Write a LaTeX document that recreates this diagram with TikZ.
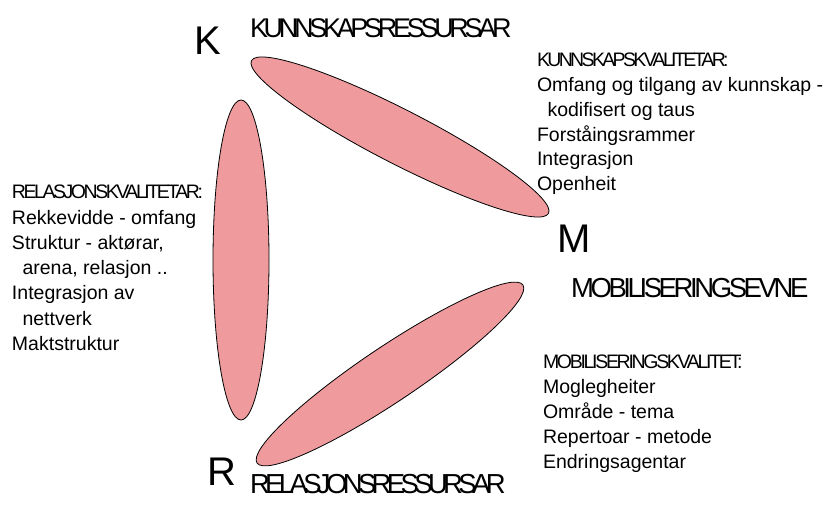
\documentclass[tikz,border=0pt]{standalone}
\usepackage{fontspec}
\setmainfont{Liberation Sans}
\newfontfamily\tightKq[LetterSpace=-13.6]{Liberation Sans}
\newfontfamily\tightRq[LetterSpace=-12.6]{Liberation Sans}
\newfontfamily\tightMq[LetterSpace=-11.8]{Liberation Sans}
\newfontfamily\tightKr[LetterSpace=-15.9]{Liberation Sans}
\newfontfamily\tightMr[LetterSpace=-12.4]{Liberation Sans}
\newfontfamily\tightRr[LetterSpace=-16.9]{Liberation Sans}
\definecolor{blobpink}{RGB}{239,155,158}
\begin{document}
\begin{tikzpicture}[x=1pt,y=-1pt,
  blob/.style={draw=black, line width=0.8pt, fill=blobpink},
  txt/.style={anchor=base west, inner sep=0pt, outer sep=0pt, font=\fontsize{19.5}{24}\selectfont},
  hsmall/.style={anchor=base west, inner sep=0pt, outer sep=0pt},
  big/.style={anchor=base west, inner sep=0pt, outer sep=0pt, font=\fontsize{40}{48}\selectfont},
  hbig/.style={anchor=base west, inner sep=0pt, outer sep=0pt}
]
\useasboundingbox (0,0) rectangle (827,505);
\fill[white] (0,0) rectangle (827,505);

% ellipses
\coordinate (ck) at (400,137);
\coordinate (cr) at (241,260);
\coordinate (cm) at (390,374);
\draw[blob] (cr) ellipse [x radius=28pt, y radius=160pt];
\draw[blob, rotate around={-27.2:(ck)}] (ck) ellipse [x radius=167pt, y radius=27pt];
\draw[blob, rotate around={33.8:(cm)}] (cm) ellipse [x radius=160pt, y radius=27.5pt];

% big letters
\node[big] (K) at (194,55) {K};
\node[big] (M) at (557,252) {M};
\node[big] (R) at (207,485) {R};

% big headings
\node[hbig, font=\fontsize{27}{32}\selectfont\tightKr] (kres) at (250,38) {KUNNSKAPSRESSURSAR};
\node[hbig, font=\fontsize{27.5}{32}\selectfont\tightMr] (mev) at (571,297) {MOBILISERINGSEVNE};
\node[hbig, font=\fontsize{27.5}{32}\selectfont\tightRr] (rres) at (250,493) {RELASJONSRESSURSAR};

% K qualities
\node[hsmall, font=\fontsize{19.5}{24}\selectfont\tightKq] (kq0) at (537,66.7) {KUNNSKAPSKVALITETAR:};
\node[txt] (kq1) at (537,91.5) {Omfang og tilgang av kunnskap -};
\node[txt] (kq2) at (537,116.3) {\hspace{10.5pt}kodifisert og taus};
\node[txt] (kq3) at (537,141.1) {Forståingsrammer};
\node[txt] (kq4) at (537,165.9) {Integrasjon};
\node[txt] (kq5) at (537,190.7) {Openheit};

% R qualities
\node[hsmall, font=\fontsize{19.5}{24}\selectfont\tightRq] (rq0) at (12,199) {RELASJONSKVALITETAR:};
\node[txt] (rq1) at (12,224.2) {Rekkevidde - omfang};
\node[txt] (rq2) at (12,249.4) {Struktur - aktørar,};
\node[txt] (rq3) at (12,274.6) {\hspace{10.5pt}arena, relasjon ..};
\node[txt] (rq4) at (12,299.8) {Integrasjon av};
\node[txt] (rq5) at (12,325) {\hspace{10.5pt}nettverk};
\node[txt] (rq6) at (12,350.2) {Maktstruktur};

% M qualities
\node[hsmall, font=\fontsize{19.5}{24}\selectfont\tightMq] (mq0) at (543,368) {MOBILISERINGSKVALITET:};
\node[txt] (mq1) at (543,393) {Moglegheiter};
\node[txt] (mq2) at (543,418) {Område - tema};
\node[txt] (mq3) at (543,443) {Repertoar - metode};
\node[txt] (mq4) at (543,468) {Endringsagentar};
\end{tikzpicture}
\end{document}
